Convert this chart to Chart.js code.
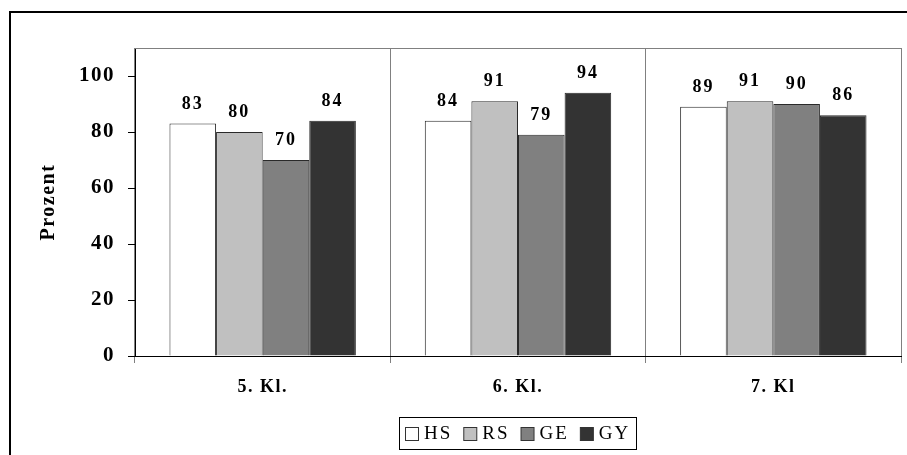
<!DOCTYPE html>
<html>
<head>
<meta charset="utf-8">
<script src="https://cdn.jsdelivr.net/npm/chart.js@4/dist/chart.umd.min.js"></script>
<style>
  html, body { margin: 0; padding: 0; background: #fff; }
  #wrap { width: 907px; height: 455px; }
</style>
</head>
<body>
<div id="wrap"><canvas id="c" width="907" height="455"></canvas></div>
<script>
// Classes and school types
const categories = ['5. Kl.', '6. Kl.', '7. Kl'];
const seriesNames = ['HS', 'RS', 'GE', 'GY'];
const hsValues = [83, 84, 89];
const rsValues = [80, 91, 91];
const geValues = [70, 79, 90];
const gyValues = [84, 94, 86];
const yTickValues = [0, 20, 40, 60, 80, 100];
const axisTitle = 'Prozent';

const seriesColors = ['#ffffff', '#c0c0c0', '#808080', '#333333'];
const FONT = "'Liberation Serif', 'Times New Roman', serif";

const datasets = [hsValues, rsValues, geValues, gyValues].map((vals, i) => ({
  label: seriesNames[i],
  data: vals,
  backgroundColor: seriesColors[i],
  borderColor: '#2a2a2a',
  borderWidth: 1,
  categoryPercentage: 0.73,
  barPercentage: 1.0
}));

// Spaced lettering for axis text
const spacing = {
  id: 'spacing',
  beforeLayout(chart) { chart.ctx.letterSpacing = '1.5px'; },
  beforeDraw(chart) { chart.ctx.letterSpacing = '1.5px'; }
};

// Outer frame, top border of plot, value labels and framed legend
const decor = {
  id: 'decor',
  afterDraw(chart) {
    const ctx = chart.ctx;
    const area = chart.chartArea;
    ctx.save();
    ctx.letterSpacing = '0px';

    // page frame
    ctx.strokeStyle = '#000';
    ctx.lineWidth = 2;
    ctx.strokeRect(10, 12, 1000, 1000);

    // top edge of plot
    ctx.strokeStyle = '#808080';
    ctx.lineWidth = 1;
    ctx.beginPath();
    ctx.moveTo(area.left, Math.round(area.top) + 0.5);
    ctx.lineTo(area.right, Math.round(area.top) + 0.5);
    ctx.stroke();

    // values above bars
    ctx.letterSpacing = '2px';
    ctx.font = 'bold 18px ' + FONT;
    ctx.fillStyle = '#000';
    ctx.textAlign = 'center';
    ctx.textBaseline = 'alphabetic';
    chart.data.datasets.forEach((ds, di) => {
      chart.getDatasetMeta(di).data.forEach((bar, i) => {
        ctx.fillText(String(ds.data[i]), bar.x, bar.y - 15);
      });
    });

    // legend
    ctx.letterSpacing = '2px';
    ctx.font = '19px ' + FONT;
    const box = 13, gapBox = 6, gapItem = 11, padX = 6;
    const items = chart.data.datasets.map(ds => ({
      label: ds.label,
      color: ds.backgroundColor,
      w: box + gapBox + ctx.measureText(ds.label).width
    }));
    const total = items.reduce((s, it) => s + it.w, 0) + gapItem * (items.length - 1);
    const cx = (area.left + area.right) / 2;
    const lx = Math.round(cx - total / 2 - padX);
    const lw = Math.round(total + 2 * padX);
    const ly = 417, lh = 32;
    ctx.strokeStyle = '#000';
    ctx.lineWidth = 1;
    ctx.strokeRect(lx + 0.5, ly + 0.5, lw, lh);
    let x = lx + padX;
    const cy = ly + lh / 2 + 0.5;
    ctx.textAlign = 'left';
    ctx.textBaseline = 'middle';
    items.forEach(it => {
      ctx.fillStyle = it.color;
      ctx.fillRect(x + 0.5, Math.round(cy - box / 2) + 0.5, box, box);
      ctx.strokeStyle = '#333';
      ctx.strokeRect(x + 0.5, Math.round(cy - box / 2) + 0.5, box, box);
      ctx.fillStyle = '#000';
      ctx.fillText(it.label, x + box + gapBox, cy + 1);
      x += it.w + gapItem;
    });
    ctx.restore();
  }
};

new Chart(document.getElementById('c'), {
  type: 'bar',
  data: { labels: categories, datasets },
  options: {
    responsive: false,
    animation: false,
    devicePixelRatio: 1,
    layout: { padding: { left: 0, top: 48, right: 6, bottom: 0 } },
    plugins: {
      legend: { display: false },
      tooltip: { enabled: false }
    },
    scales: {
      x: {
        offset: true,
        grid: {
          offset: true,
          color: '#808080',
          lineWidth: 1,
          tickLength: 7,
          drawOnChartArea: true
        },
        border: { color: '#000', width: 1 },
        ticks: {
          color: '#000',
          font: { family: FONT, size: 18, weight: 'bold' },
          padding: 14
        },
        afterFit(scale) { scale.height = 99; }
      },
      y: {
        min: 0,
        max: 110,
        afterBuildTicks(scale) {
          scale.ticks = yTickValues.map(v => ({ value: v }));
        },
        grid: {
          drawOnChartArea: false,
          color: '#000',
          tickLength: 7
        },
        border: { color: '#000', width: 1 },
        ticks: {
          color: '#000',
          font: { family: FONT, size: 21, weight: 'bold' },
          padding: 13
        },
        title: {
          display: true,
          text: axisTitle,
          color: '#000',
          font: { family: FONT, size: 20, weight: 'bold' },
          padding: { top: 37, bottom: 0 }
        },
        afterFit(scale) { scale.width = 135; }
      }
    }
  },
  plugins: [spacing, decor]
});
</script>
</body>
</html>
